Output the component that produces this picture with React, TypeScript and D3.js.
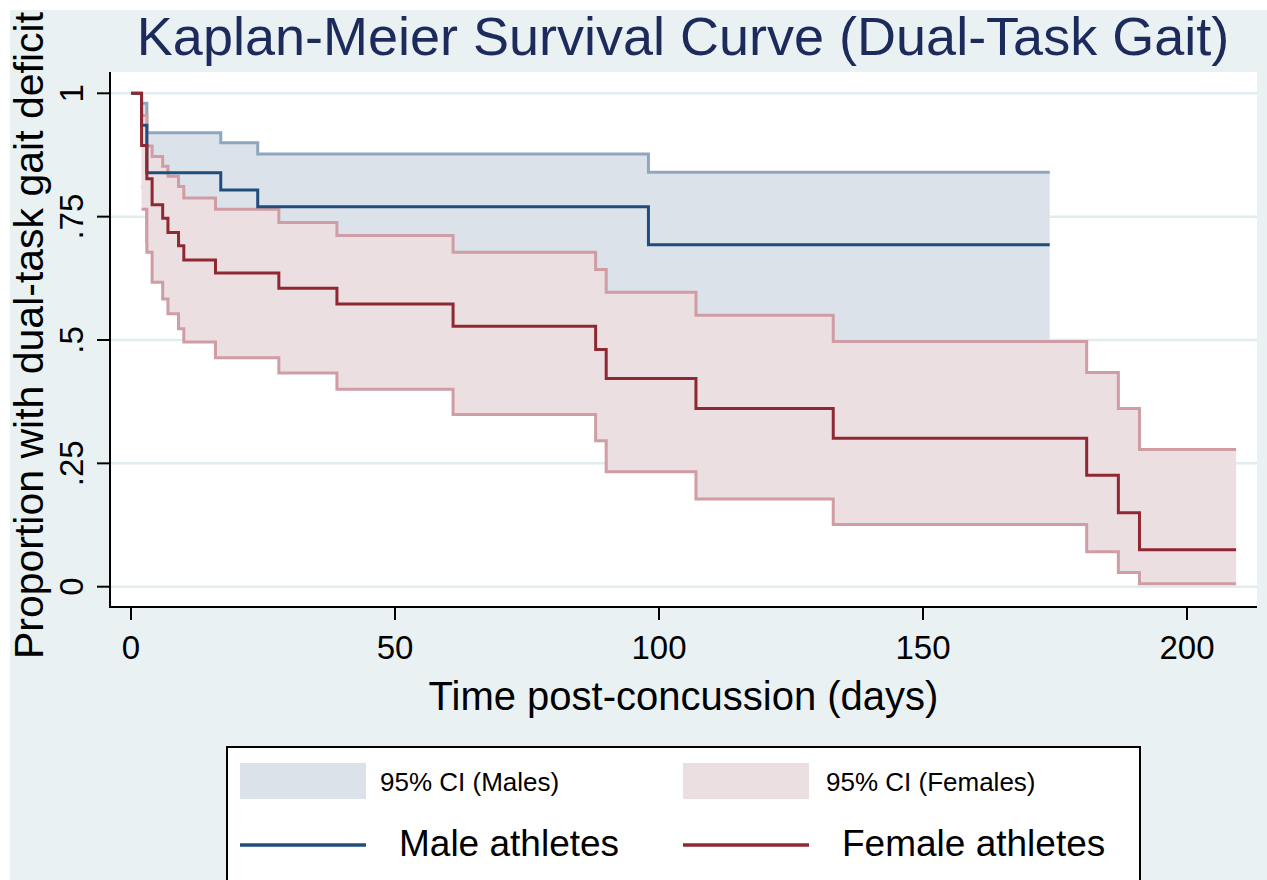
import React from "react";
import * as d3 from "d3";

// ---- Data ----
const maleTimes = [0, 2, 3, 17, 24, 98, 174];
const maleSurv = [1, 0.935, 0.839, 0.804, 0.77, 0.693, 0.693];
const maleUpper: (number | null)[] = [null, 0.98, 0.92, 0.9, 0.877, 0.84, 0.84];
const maleLower: (number | null)[] = [null, 0.81, 0.7, 0.65, 0.58, 0.48, 0.48];

const femaleTimes = [0, 2, 3, 4, 6, 7, 9, 10, 16, 28, 39, 61, 88, 90, 107, 133, 181, 187, 191, 209.3];
const femaleSurv = [1, 0.894, 0.827, 0.774, 0.747, 0.718, 0.691, 0.662, 0.636, 0.605, 0.573, 0.528, 0.481, 0.422, 0.361, 0.301, 0.226, 0.15, 0.075, 0.075];
const femaleUpper: (number | null)[] = [null, 0.955, 0.893, 0.872, 0.852, 0.832, 0.811, 0.788, 0.765, 0.738, 0.712, 0.678, 0.643, 0.597, 0.55, 0.497, 0.434, 0.361, 0.278, 0.278];
const femaleLower: (number | null)[] = [null, 0.765, 0.678, 0.617, 0.583, 0.553, 0.523, 0.496, 0.464, 0.433, 0.4, 0.349, 0.296, 0.233, 0.178, 0.126, 0.071, 0.029, 0.006, 0.006];

const xTicks = [0, 50, 100, 150, 200];
const yTicks = [0, 0.25, 0.5, 0.75, 1];
const yTickLabels = ["0", ".25", ".5", ".75", "1"];

const title = "Kaplan-Meier Survival Curve (Dual-Task Gait)";
const xTitle = "Time post-concussion (days)";
const yTitle = "Proportion with dual-task gait deficit";
const legendItems = ["95% CI (Males)", "95% CI (Females)", "Male athletes", "Female athletes"];

// ---- Styles ----
const FONT = "'Liberation Sans', Arial, Helvetica, sans-serif";
const BG = "#e9f1f3";
const GRID = "#e2ebef";
const MALE_LINE = "#1f4e7c";
const FEMALE_LINE = "#902833";
const MALE_FILL = "#dce2ea";
const FEMALE_FILL = "#ecdfe1";
const MALE_CI_LINE = "#8ea6bf";
const FEMALE_CI_LINE = "#cf9da3";
const TITLE_COLOR = "#1c2b5c";

type Pt = { t: number; s: number; u: number | null; l: number | null };

function build(times: number[], s: number[], u: (number | null)[], l: (number | null)[]): Pt[] {
  return times.map((t, i) => ({ t, s: s[i], u: u[i], l: l[i] }));
}

export default function App() {
  const W = 1267;
  const H = 880;
  const plot = { x0: 110, y0: 72, x1: 1257, y1: 607 };

  const x = d3.scaleLinear().domain([0, 200]).range([131, 1187]);
  const y = d3.scaleLinear().domain([0, 1]).range([586.7, 93.3]);

  const male = build(maleTimes, maleSurv, maleUpper, maleLower);
  const female = build(femaleTimes, femaleSurv, femaleUpper, femaleLower);

  const area = d3
    .area<Pt>()
    .defined((d) => d.u != null && d.l != null)
    .x((d) => x(d.t))
    .y0((d) => y(d.l as number))
    .y1((d) => y(d.u as number))
    .curve(d3.curveStepAfter);

  const upperLine = d3
    .line<Pt>()
    .defined((d) => d.u != null)
    .x((d) => x(d.t))
    .y((d) => y(d.u as number))
    .curve(d3.curveStepAfter);

  const lowerLine = d3
    .line<Pt>()
    .defined((d) => d.l != null)
    .x((d) => x(d.t))
    .y((d) => y(d.l as number))
    .curve(d3.curveStepAfter);

  const survLine = d3
    .line<Pt>()
    .x((d) => x(d.t))
    .y((d) => y(d.s))
    .curve(d3.curveStepAfter);

  const plotMidY = (plot.y0 + plot.y1) / 2;
  const plotMidX = (plot.x0 + plot.x1) / 2;

  return (
    <svg
      width={W}
      height={H}
      style={{ position: "absolute", left: 0, top: 0, display: "block" }}
      fontFamily={FONT}
    >
      <rect x={0} y={0} width={W} height={H} fill="#ffffff" />
      <rect x={10} y={10} width={W - 10} height={H - 10} fill={BG} />
      <rect x={plot.x0} y={plot.y0} width={plot.x1 - plot.x0} height={plot.y1 - plot.y0} fill="#ffffff" />

      {/* gridlines */}
      {yTicks.map((v) => (
        <line key={"g" + v} x1={plot.x0} x2={plot.x1} y1={y(v)} y2={y(v)} stroke={GRID} strokeWidth={2.5} />
      ))}

      {/* CI areas */}
      <path d={area(male) || ""} fill={MALE_FILL} />
      <path d={upperLine(male) || ""} fill="none" stroke={MALE_CI_LINE} strokeWidth={3} />
      <path d={lowerLine(male) || ""} fill="none" stroke={MALE_CI_LINE} strokeWidth={3} />
      <path d={area(female) || ""} fill={FEMALE_FILL} />
      <path d={upperLine(female) || ""} fill="none" stroke={FEMALE_CI_LINE} strokeWidth={3} />
      <path d={lowerLine(female) || ""} fill="none" stroke={FEMALE_CI_LINE} strokeWidth={3} />

      {/* survival curves */}
      <path d={survLine(male) || ""} fill="none" stroke={MALE_LINE} strokeWidth={3} />
      <path d={survLine(female) || ""} fill="none" stroke={FEMALE_LINE} strokeWidth={3} />

      {/* axes */}
      <line x1={plot.x0} x2={plot.x0} y1={plot.y0} y2={plot.y1 + 1} stroke="#000" strokeWidth={2} />
      <line x1={plot.x0 - 1} x2={plot.x1} y1={plot.y1} y2={plot.y1} stroke="#000" strokeWidth={2} />
      {xTicks.map((v) => (
        <g key={"x" + v}>
          <line x1={x(v)} x2={x(v)} y1={plot.y1} y2={plot.y1 + 13} stroke="#000" strokeWidth={2} />
          <text x={x(v)} y={659} textAnchor="middle" fontSize={33} fill="#000">
            {v}
          </text>
        </g>
      ))}
      {yTicks.map((v, i) => (
        <g key={"y" + v}>
          <line x1={plot.x0 - 13} x2={plot.x0} y1={y(v)} y2={y(v)} stroke="#000" strokeWidth={2} />
          <text
            transform={`translate(83,${y(v)}) rotate(-90)`}
            textAnchor="middle"
            fontSize={33}
            fill="#000"
          >
            {yTickLabels[i]}
          </text>
        </g>
      ))}

      {/* titles */}
      <text x={683} y={55} textAnchor="middle" fontSize={54} fill={TITLE_COLOR}>
        {title}
      </text>
      <text x={plotMidX} y={710} textAnchor="middle" fontSize={40} fill="#000">
        {xTitle}
      </text>
      <text transform={`translate(43,${plotMidY - 4}) rotate(-90)`} textAnchor="middle" fontSize={41} fill="#000">
        {yTitle}
      </text>

      {/* legend */}
      <rect x={227} y={747} width={913} height={160} fill="#ffffff" stroke="#000" strokeWidth={2} />
      <rect x={240} y={763} width={126} height={36} fill={MALE_FILL} />
      <text x={380} y={791} fontSize={26} fill="#000">
        {legendItems[0]}
      </text>
      <rect x={683} y={763} width={126} height={36} fill={FEMALE_FILL} />
      <text x={826} y={791} fontSize={26} fill="#000">
        {legendItems[1]}
      </text>
      <line x1={240} x2={366} y1={845} y2={845} stroke={MALE_LINE} strokeWidth={3.5} />
      <text x={399} y={856} fontSize={37} fill="#000">
        {legendItems[2]}
      </text>
      <line x1={683} x2={809} y1={845} y2={845} stroke={FEMALE_LINE} strokeWidth={3.5} />
      <text x={842} y={856} fontSize={37} fill="#000">
        {legendItems[3]}
      </text>
    </svg>
  );
}
